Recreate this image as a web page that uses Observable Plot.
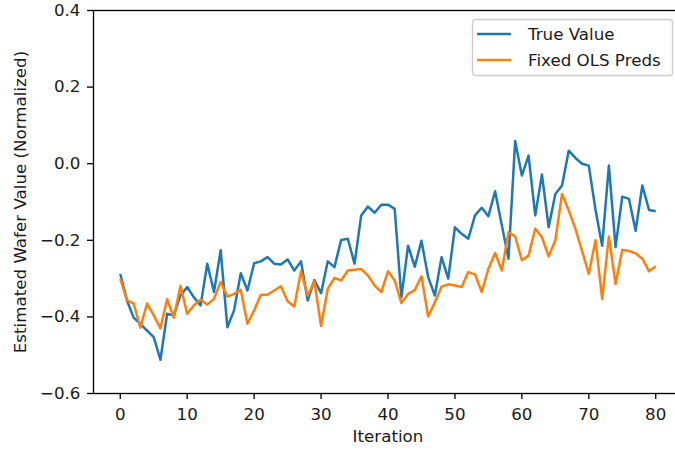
<!DOCTYPE html>
<html>
<head>
<meta charset="utf-8">
<script src="https://cdn.jsdelivr.net/npm/d3@7"></script>
<script src="https://cdn.jsdelivr.net/npm/@observablehq/plot@0.6"></script>
<style>
  body { margin: 0; background: #fff; }
  #wrap { width: 675px; height: 452px; overflow: hidden; position: relative; background: #fff; }
  #wrap svg { max-width: none !important; height: 452px !important; }
</style>
</head>
<body>
<div id="wrap"></div>
<script>
const trueValue = [
  -0.288, -0.357, -0.402, -0.418, -0.436, -0.453, -0.512, -0.392, -0.396, -0.344,
  -0.322, -0.349, -0.370, -0.261, -0.335, -0.226, -0.427, -0.383, -0.286, -0.331,
  -0.260, -0.255, -0.244, -0.261, -0.263, -0.250, -0.279, -0.255, -0.357, -0.304,
  -0.338, -0.255, -0.270, -0.199, -0.196, -0.261, -0.135, -0.112, -0.128, -0.107,
  -0.107, -0.118, -0.349, -0.214, -0.269, -0.201, -0.296, -0.344, -0.244, -0.300,
  -0.166, -0.183, -0.196, -0.135, -0.115, -0.137, -0.072, -0.160, -0.248, 0.059,
  -0.031, 0.021, -0.135, -0.028, -0.166, -0.079, -0.057, 0.034, 0.015, 0.000,
  -0.005, -0.120, -0.214, -0.005, -0.218, -0.086, -0.092, -0.175, -0.057, -0.121,
  -0.124
];
const olsPreds = [
  -0.300, -0.357, -0.365, -0.428, -0.365, -0.396, -0.430, -0.354, -0.402, -0.319,
  -0.392, -0.370, -0.355, -0.368, -0.353, -0.309, -0.347, -0.340, -0.329, -0.418,
  -0.383, -0.342, -0.342, -0.331, -0.320, -0.359, -0.373, -0.281, -0.344, -0.307,
  -0.424, -0.327, -0.298, -0.305, -0.279, -0.277, -0.275, -0.292, -0.318, -0.335,
  -0.281, -0.305, -0.364, -0.340, -0.330, -0.294, -0.399, -0.362, -0.321, -0.315,
  -0.318, -0.322, -0.283, -0.289, -0.335, -0.275, -0.233, -0.279, -0.179, -0.190,
  -0.252, -0.240, -0.170, -0.192, -0.242, -0.200, -0.079, -0.122, -0.170, -0.228,
  -0.288, -0.200, -0.353, -0.190, -0.314, -0.225, -0.228, -0.234, -0.248, -0.281,
  -0.268
];
const seriesNames = ["True Value", "Fixed OLS Preds"];
const seriesColors = ["#1f77b4", "#ff7f0e"];
const xTicks = [0, 10, 20, 30, 40, 50, 60, 70, 80];
const yTicks = [-0.6, -0.4, -0.2, 0.0, 0.2, 0.4];
const xLabel = "Iteration";
const yLabel = "Estimated Wafer Value (Normalized)";

const rows = [];
trueValue.forEach((v, i) => rows.push({iter: i, value: v, series: seriesNames[0]}));
olsPreds.forEach((v, i) => rows.push({iter: i, value: v, series: seriesNames[1]}));

const fmtY = d => (d < -1e-9 ? "\u2212" : "") + Math.abs(d).toFixed(1);
const FS = 16.7;
const TXT = "#1a1a1a";

const svg = Plot.plot({
  width: 690,
  height: 452,
  marginLeft: 93,
  marginRight: 8,
  marginTop: 10,
  marginBottom: 59,
  style: {fontFamily: "'DejaVu Sans', sans-serif", fontSize: FS + "px", color: TXT, background: "#fff", overflow: "visible"},
  x: {domain: [-4, 84]},
  y: {domain: [-0.6, 0.4]},
  color: {domain: seriesNames, range: seriesColors},
  marks: [
    Plot.line(rows, {x: "iter", y: "value", z: "series", stroke: "series", strokeWidth: 2.5, strokeLinejoin: "round", strokeLinecap: "butt"}),
    Plot.frame({stroke: "#000", strokeWidth: 1.33}),
    Plot.axisX(xTicks, {tickSize: 6, tickPadding: 9, strokeWidth: 1.33, stroke: "#000", label: null, fontSize: FS, fill: TXT, tickFormat: d => String(d)}),
    Plot.axisY(yTicks, {tickSize: 6, tickPadding: 7, strokeWidth: 1.33, stroke: "#000", label: null, fontSize: FS, fill: TXT, tickFormat: fmtY}),
    Plot.text([yLabel], {text: d => d, frameAnchor: "left", textAnchor: "middle", dx: -73, rotate: -90, fontSize: FS, fill: TXT}),
    Plot.text([xLabel], {text: d => d, frameAnchor: "bottom", textAnchor: "middle", dy: 48, fontSize: FS, fill: TXT})
  ]
});
svg.style.maxWidth = "none";

// Legend (upper right, matplotlib style)
const lg = d3.select(svg).append("g")
  .attr("font-family", "'DejaVu Sans', sans-serif")
  .attr("font-size", FS)
  .attr("text-anchor", "start");
lg.append("rect")
  .attr("x", 472.5).attr("y", 19.5).attr("width", 200).attr("height", 56).attr("rx", 3.3)
  .attr("fill", "#fff").attr("fill-opacity", 0.8).attr("stroke", "#cccccc").attr("stroke-width", 1.33);
seriesNames.forEach((name, k) => {
  const yy = 34 + k * 26;
  lg.append("line").attr("x1", 477).attr("x2", 511).attr("y1", yy).attr("y2", yy)
    .attr("stroke", seriesColors[k]).attr("stroke-width", 2.5);
  lg.append("text").attr("x", 528).attr("y", yy).attr("dy", "0.35em")
    .attr("text-anchor", "start").attr("fill", TXT).text(name);
});

document.getElementById("wrap").appendChild(svg);
</script>
</body>
</html>
